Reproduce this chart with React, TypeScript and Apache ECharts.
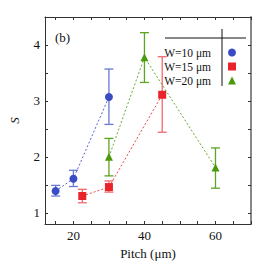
import React, { useEffect, useRef } from "react";
import * as echarts from "echarts";

const seriesNames = ["W=10 μm", "W=15 μm", "W=20 μm"];
const pitch10 = [15, 20, 30];
const s10 = [1.39, 1.61, 3.07];
const low10 = [1.3, 1.47, 2.58];
const high10 = [1.49, 1.76, 3.57];

const pitch15 = [22.5, 30, 45];
const s15 = [1.3, 1.46, 3.11];
const low15 = [1.18, 1.37, 2.44];
const high15 = [1.42, 1.57, 3.79];

const pitch20 = [30, 40, 60];
const s20 = [2.0, 3.78, 1.81];
const low20 = [1.66, 3.33, 1.44];
const high20 = [2.33, 4.22, 2.16];

const xLabels = [20, 40, 60];
const xTicks = [15, 20, 25, 30, 35, 40, 45, 50, 55, 60, 65, 70];
const yLabels = [1, 2, 3, 4];
const yTicks = [1, 1.5, 2, 2.5, 3, 3.5, 4, 4.5];

const colors = ["#3a4cc4", "#e8242a", "#4a9a0c"];
const errColors = ["#6878d4", "#ef6a6e", "#5aa524"];
const symbols = ["circle", "rect", "triangle"];
const symbolSizes = [8, 8, 8];

const FONT = "Times New Roman";

export default function App() {
  const ref = useRef<HTMLDivElement>(null);
  useEffect(() => {
    if (!ref.current) return;
    const chart = echarts.init(ref.current, undefined, { renderer: "svg" });
    const groups = [
      { x: pitch10, y: s10, lo: low10, hi: high10 },
      { x: pitch15, y: s15, lo: low15, hi: high15 },
      { x: pitch20, y: s20, lo: low20, hi: high20 },
    ];
    const series: any[] = [];
    groups.forEach((g, i) => {
      series.push({
        type: "custom",
        name: seriesNames[i] + " err",
        xAxisIndex: 0,
        yAxisIndex: 0,
        data: g.x.map((xv, k) => [xv, g.lo[k], g.hi[k]]),
        renderItem: (params: any, api: any) => {
          const xv = api.value(0);
          const lo = api.coord([xv, api.value(1)]);
          const hi = api.coord([xv, api.value(2)]);
          const w = 4.5;
          const st = { stroke: errColors[i], lineWidth: 1.3, fill: "none" };
          return {
            type: "group",
            children: [
              { type: "line", shape: { x1: lo[0], y1: lo[1], x2: hi[0], y2: hi[1] }, style: st },
              { type: "line", shape: { x1: lo[0] - w, y1: lo[1], x2: lo[0] + w, y2: lo[1] }, style: st },
              { type: "line", shape: { x1: hi[0] - w, y1: hi[1], x2: hi[0] + w, y2: hi[1] }, style: st },
            ],
          };
        },
        z: 1,
      });
      series.push({
        type: "line",
        name: seriesNames[i],
        data: g.x.map((xv, k) => [xv, g.y[k]]),
        symbol: symbols[i],
        symbolSize: symbolSizes[i],
        showAllSymbol: true,
        lineStyle: { color: colors[i], width: 1, type: [2, 2], opacity: 0.85 },
        itemStyle: { color: colors[i] },
        z: 3,
      });
    });

    const axisCommon = {
      axisLine: { show: true, lineStyle: { color: "#333", width: 1 } },
      splitLine: { show: false },
    };

    chart.setOption({
      animation: false,
      backgroundColor: "#fff",
      grid: { left: 44, top: 17, right: 15, bottom: 42 },
      legend: {
        orient: "vertical",
        right: 25,
        top: 41,
        align: "right",
        itemWidth: 8,
        itemHeight: 8,
        itemGap: 1,
        data: seriesNames.map((n, i) => ({ name: n, icon: symbols[i] })),
        textStyle: { fontFamily: FONT, fontSize: 11.5, lineHeight: 13, color: "#111", padding: [0, 12, 0, 0] },
      },
      xAxis: [
        {
          type: "value",
          min: 12,
          max: 70,
          position: "bottom",
          name: "Pitch (μm)",
          nameLocation: "middle",
          nameGap: 17,
          nameTextStyle: { fontFamily: FONT, fontSize: 13, color: "#111" },
          axisLabel: { customValues: xLabels, fontFamily: FONT, fontSize: 13, color: "#111", margin: 5 },
          axisTick: { customValues: xTicks, inside: true, length: 3, lineStyle: { color: "#333" } },
          ...axisCommon,
        },
        {
          type: "value",
          min: 12,
          max: 70,
          position: "top",
          axisLabel: { show: false },
          axisTick: { customValues: xTicks, inside: true, length: 3, lineStyle: { color: "#333" } },
          ...axisCommon,
        },
      ],
      yAxis: [
        {
          type: "value",
          min: 0.8,
          max: 4.5,
          position: "left",
          name: "S",
          nameLocation: "middle",
          nameGap: 24,
          nameTextStyle: { fontFamily: FONT, fontSize: 13, fontStyle: "italic", color: "#111" },
          axisLabel: { customValues: yLabels, fontFamily: FONT, fontSize: 13, color: "#111", margin: 5 },
          axisTick: { customValues: yTicks, inside: true, length: 3, lineStyle: { color: "#333" } },
          ...axisCommon,
        },
        {
          type: "value",
          min: 0.8,
          max: 4.5,
          position: "right",
          axisLabel: { show: false },
          axisTick: { customValues: yTicks, inside: true, length: 3, lineStyle: { color: "#333" } },
          axisLine: { show: true, lineStyle: { color: "#888", width: 2 } },
          splitLine: { show: false },
        },
      ],
      graphic: [
        { type: "text", left: 55, top: 31, style: { text: "(b)", fontFamily: FONT, fontSize: 13, fill: "#111" } },
        { type: "line", shape: { x1: 165, y1: 38, x2: 246, y2: 38 }, style: { stroke: "#111", lineWidth: 1 } },
        { type: "line", shape: { x1: 222, y1: 29, x2: 222, y2: 86 }, style: { stroke: "#111", lineWidth: 1 } },
      ],
      series,
    });
    return () => chart.dispose();
  }, []);
  return <div ref={ref} style={{ width: 266, height: 266, marginLeft: -8, marginTop: -8 }} />;
}
